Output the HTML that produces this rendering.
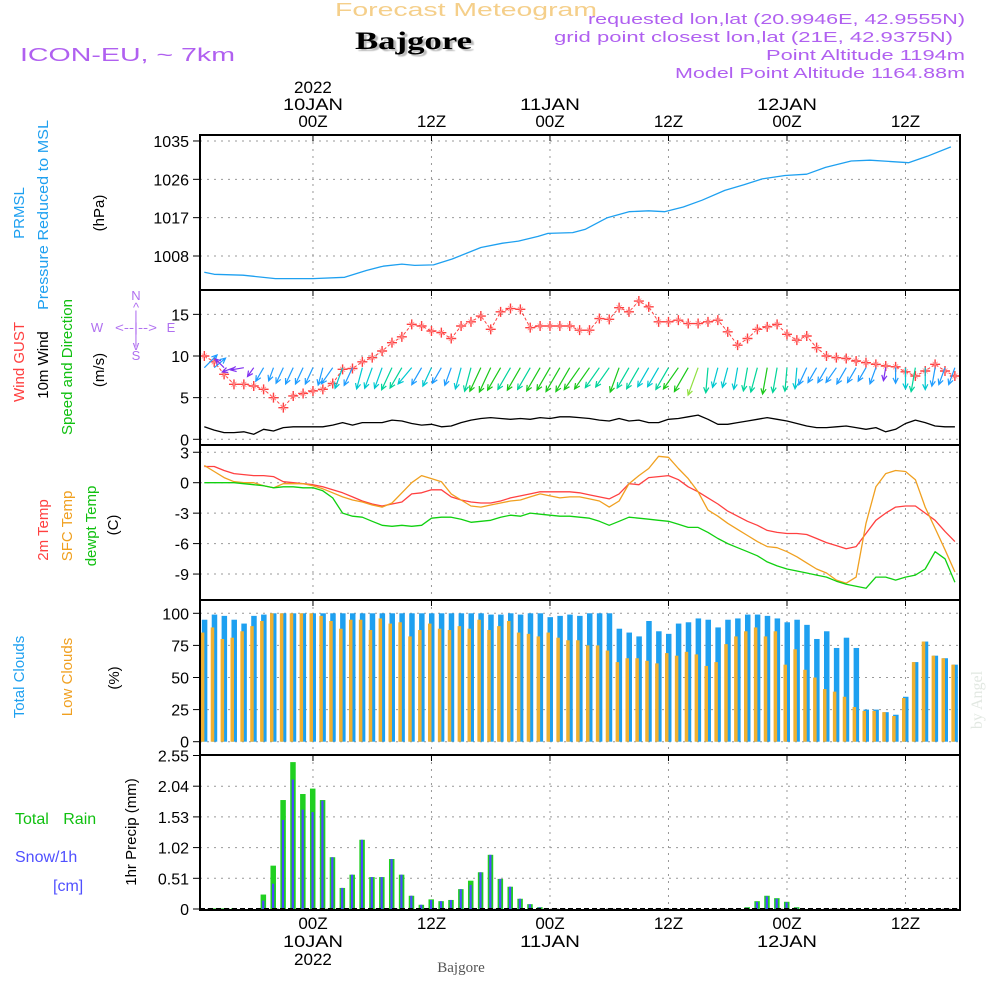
<!DOCTYPE html>
<html><head><meta charset="utf-8"><style>
html,body{margin:0;padding:0;background:#fff;}
svg{display:block;font-family:"Liberation Sans Narrow","Liberation Sans",sans-serif;}
</style></head><body>
<svg id="chart" width="1000" height="1000" viewBox="0 0 1000 1000" xmlns="http://www.w3.org/2000/svg">
<defs><clipPath id="plotclip"><rect x="200" y="135" width="760" height="775"/></clipPath></defs>
<rect x="0" y="0" width="1000" height="1000" fill="#fff"/>
<text x="335" y="16" textLength="262" lengthAdjust="spacingAndGlyphs" font-size="18" fill="#f5cf8a">Forecast Meteogram</text>
<text x="355" y="49" textLength="117" lengthAdjust="spacingAndGlyphs" font-size="25" font-weight="bold" font-family="Liberation Serif, serif" fill="#000" style="text-shadow:2px 2px 1px #bbb">Bajgore</text>
<text x="20" y="61" textLength="215" lengthAdjust="spacingAndGlyphs" font-size="18" fill="#b060f0">ICON-EU, ~ 7km</text>
<g font-size="15" fill="#b060f0">
<text x="588" y="24" textLength="377" lengthAdjust="spacingAndGlyphs">requested lon,lat (20.9946E, 42.9555N)</text>
<text x="554" y="42" textLength="399" lengthAdjust="spacingAndGlyphs">grid point closest lon,lat (21E, 42.9375N)</text>
<text x="766" y="60" textLength="199" lengthAdjust="spacingAndGlyphs">Point Altitude 1194m</text>
<text x="675" y="78" textLength="290" lengthAdjust="spacingAndGlyphs">Model Point Altitude 1164.88m</text>
</g>
<g id="grid"></g>
<g id="marks" clip-path="url(#plotclip)"></g>
<g id="axes"></g>
<g id="labels" font-size="16" fill="#000">
<g font-size="15">
<text transform="translate(24,213) rotate(-90)" text-anchor="middle" fill="#1ea0f0">PRMSL</text>
<text transform="translate(48,215) rotate(-90)" text-anchor="middle" fill="#1ea0f0" textLength="190" lengthAdjust="spacingAndGlyphs">Pressure Reduced to MSL</text>
<text transform="translate(104,213) rotate(-90)" text-anchor="middle">(hPa)</text>
<text transform="translate(24,362) rotate(-90)" text-anchor="middle" fill="#ff4040">Wind GUST</text>
<text transform="translate(48,365) rotate(-90)" text-anchor="middle">10m Wind</text>
<text transform="translate(72,367) rotate(-90)" text-anchor="middle" fill="#10c010">Speed and Direction</text>
<text transform="translate(104,370) rotate(-90)" text-anchor="middle">(m/s)</text>
<text transform="translate(48,530) rotate(-90)" text-anchor="middle" fill="#ff4040">2m Temp</text>
<text transform="translate(72,526) rotate(-90)" text-anchor="middle" fill="#f0a020">SFC Temp</text>
<text transform="translate(96,526) rotate(-90)" text-anchor="middle" fill="#10c010">dewpt Temp</text>
<text transform="translate(118,525) rotate(-90)" text-anchor="middle">(C)</text>
<text transform="translate(24,677) rotate(-90)" text-anchor="middle" fill="#1ea0f0">Total Clouds</text>
<text transform="translate(72,677) rotate(-90)" text-anchor="middle" fill="#f0a020">Low Clouds</text>
<text transform="translate(119,678) rotate(-90)" text-anchor="middle">(%)</text>
<text transform="translate(136,832) rotate(-90)" text-anchor="middle">1hr Precip (mm)</text>
</g>
<text x="15" y="824" font-size="16" fill="#10c010" word-spacing="10">Total Rain</text>
<text x="15" y="862" font-size="16" fill="#5050ff">Snow/1h</text>
<text x="53" y="891" font-size="16" fill="#5050ff">[cm]</text>
<g font-size="13" fill="#b070f0" text-anchor="middle">
<text x="136" y="300">N</text><text x="136" y="312">^</text><text x="136" y="320">|</text>
<text x="97" y="332">W</text><text x="136" y="332" textLength="42" lengthAdjust="spacingAndGlyphs">&lt;--|--&gt;</text><text x="171" y="332">E</text>
<text x="136" y="344">|</text><text x="136" y="350">v</text><text x="136" y="360">S</text>
</g>
<text x="461" y="972" text-anchor="middle" font-size="15" font-family="Liberation Serif, serif" fill="#555">Bajgore</text>
<text transform="translate(982,700) rotate(-90)" text-anchor="middle" font-size="16" font-family="Liberation Serif, serif" fill="#e2e8e2">by Angel</text>
</g>
</svg>
<script>
// ---- data ----
const tickHours = [0, 12, 24, 36, 48, 60];
const tickLabels = ["00Z", "12Z", "00Z", "12Z", "00Z", "12Z"];
const dayLabels = ["10JAN", "", "11JAN", "", "12JAN", ""];
const hours = [-11,-10,-9,-8,-7,-6,-5,-4,-3,-2,-1,0,1,2,3,4,5,6,7,8,9,10,11,12,13,14,15,16,17,18,19,20,21,22,23,24,25,26,27,28,29,30,31,32,33,34,35,36,37,38,39,40,41,42,43,44,45,46,47,48,49,50,51,52,53,54,55,56,57,58,59,60,61,62,63,64,65];
const pressureHours = [-11,-10,-7.1,-3.8,0,3.2,5.4,7.1,9,10.3,12.2,14.1,17,19.2,20.8,22.8,23.8,26.3,27.6,29.8,32,34,35.6,37.5,39.4,41.7,43.6,45.5,47.8,50,51.9,54.5,56.4,58.3,60.3,62.2,64.6];
const pressureValues = [1004.2,1003.7,1003.5,1002.7,1002.7,1003.0,1004.6,1005.6,1006.1,1005.8,1005.9,1007.3,1010.0,1011.0,1011.5,1012.6,1013.3,1013.5,1014.3,1017.0,1018.4,1018.6,1018.4,1019.5,1021.1,1023.4,1024.7,1026.1,1026.9,1027.2,1028.8,1030.3,1030.5,1030.2,1029.9,1031.4,1033.6];
const pressureTicks = [1008, 1017, 1026, 1035];
const gustValues = [10.0,9.3,7.8,6.6,6.6,6.4,6.0,5.0,3.8,5.2,5.5,5.8,6.0,6.7,8.4,8.5,9.3,9.8,10.6,11.6,12.3,13.8,13.6,13.0,12.8,12.1,13.6,14.1,14.8,13.2,15.3,15.7,15.6,13.4,13.6,13.6,13.6,13.6,13.1,13.1,14.5,14.4,15.8,15.3,16.6,15.9,14.1,14.1,14.3,13.9,13.9,14.1,14.3,12.9,11.3,12.1,13.2,13.5,13.8,12.6,11.9,12.4,11.0,10.0,9.8,9.7,9.4,9.2,9.0,8.8,8.7,8.1,7.6,8.2,9.0,8.2,7.6];
const windSpeed = [1.5,1.1,0.8,0.8,0.9,0.6,1.2,1.0,1.4,1.5,1.5,1.5,1.5,1.7,2.0,1.7,2.0,2.0,2.0,2.3,2.2,1.9,1.7,1.8,1.5,1.6,2.0,2.3,2.5,2.6,2.5,2.4,2.5,2.4,2.6,2.5,2.7,2.7,2.6,2.5,2.3,2.2,2.5,2.2,2.3,2.0,2.0,2.4,2.5,2.7,2.9,2.4,1.8,1.8,2.0,2.2,2.4,2.6,2.4,2.2,1.9,1.6,1.4,1.4,1.5,1.6,1.4,1.2,1.4,0.9,1.2,1.9,2.3,2.0,1.6,1.5,1.5];
const windDir = [225,230,135,70,80,35,30,20,25,25,25,25,15,35,20,25,15,20,20,25,30,40,30,25,30,20,15,15,25,25,30,30,30,30,30,30,30,30,35,35,35,35,20,30,30,30,30,30,35,30,20,5,15,15,10,10,15,10,10,5,5,25,30,30,35,30,30,30,20,10,0,0,10,0,10,20,20];
const windTicks = [0, 5, 10, 15];
const temp2m = [1.6,1.6,1.2,0.9,0.8,0.7,0.7,0.6,0.1,0.0,-0.1,-0.2,-0.4,-0.7,-1.0,-1.4,-1.8,-2.1,-2.3,-2.1,-1.9,-1.1,-1.0,-0.7,-0.7,-1.4,-1.7,-1.9,-2.0,-2.0,-1.8,-1.5,-1.3,-1.1,-0.9,-0.9,-0.9,-0.9,-1.0,-1.2,-1.4,-1.6,-1.1,-0.1,-0.2,0.5,0.6,0.7,0.3,-0.4,-0.9,-1.5,-2.1,-2.8,-3.3,-3.8,-4.2,-4.7,-4.9,-5.0,-5.0,-5.1,-5.5,-5.9,-6.2,-6.5,-6.3,-5.0,-3.7,-3.0,-2.4,-2.3,-2.3,-3.0,-3.7,-4.8,-5.8];
const tempSfc = [1.7,1.1,0.5,0.1,0.0,0.0,-0.3,-0.5,-0.1,-0.1,-0.1,-0.3,-0.6,-1.0,-1.4,-1.7,-1.9,-2.2,-2.4,-2.0,-1.0,0.0,0.7,0.4,0.1,-1.1,-1.7,-2.3,-2.4,-2.2,-2.0,-1.8,-1.7,-1.4,-1.1,-1.3,-1.5,-1.4,-1.4,-1.6,-1.8,-2.4,-1.8,-0.1,0.7,1.4,2.6,2.5,1.4,0.4,-0.9,-2.7,-3.3,-4.0,-4.6,-5.2,-5.8,-6.3,-6.4,-6.8,-7.3,-7.9,-8.5,-8.9,-9.6,-9.9,-9.3,-4.0,-0.4,0.9,1.2,1.1,0.3,-2.4,-4.5,-6.6,-8.8];
const dewpoint = [0.0,0.0,0.0,0.0,-0.1,-0.2,-0.3,-0.5,-0.4,-0.4,-0.5,-0.5,-0.8,-1.5,-3.0,-3.3,-3.4,-3.8,-4.2,-4.3,-4.2,-4.3,-4.2,-3.5,-3.4,-3.4,-3.6,-3.9,-3.8,-3.7,-3.4,-3.2,-3.3,-3.0,-3.1,-3.2,-3.3,-3.3,-3.4,-3.5,-3.8,-4.2,-3.8,-3.4,-3.5,-3.6,-3.7,-3.8,-4.1,-4.4,-4.4,-4.9,-5.5,-6.0,-6.4,-6.8,-7.2,-7.8,-8.2,-8.5,-8.7,-8.9,-9.1,-9.3,-9.7,-10.0,-10.2,-10.4,-9.3,-9.3,-9.6,-9.3,-9.1,-8.5,-6.8,-7.5,-9.8];
const tempTicks = [-9, -6, -3, 0, 3];
const totalClouds = [95,99,98,95,92,98,99,100,100,100,100,100,100,100,100,100,100,100,100,100,100,100,100,100,100,100,100,100,100,99,99,100,99,100,100,97,98,99,98,100,100,100,88,85,82,94,86,84,92,93,96,95,89,95,96,99,99,98,96,93,95,91,80,86,73,81,73,25,25,23,21,35,62,78,67,65,60];
const lowClouds = [85,89,80,81,86,90,94,100,100,100,100,100,98,94,88,95,95,87,96,92,93,82,87,92,88,87,90,88,95,87,90,94,85,84,82,85,81,79,79,75,75,71,62,65,65,63,61,69,67,70,68,59,62,76,82,86,89,82,86,60,72,56,50,41,39,35,27,24,24,23,20,34,62,78,67,65,60];
const cloudTicks = [0, 25, 50, 75, 100];
const rainTotal = [0,0.01,0.01,0.01,0,0,0.24,0.72,1.81,2.44,1.91,2.0,1.81,0.86,0.35,0.57,1.15,0.53,0.53,0.83,0.57,0.22,0.07,0.16,0.13,0.15,0.33,0.47,0.61,0.90,0.50,0.37,0.17,0.08,0.03,0,0,0,0,0,0,0,0,0,0,0,0,0,0,0,0,0,0,0,0,0.03,0.13,0.22,0.18,0.12,0.03,0,0,0,0,0,0,0,0,0,0,0,0,0,0,0,0];
const snowTotal = [0,0,0,0,0,0,0.14,0.42,1.48,2.15,1.65,1.61,1.80,0.86,0.35,0.57,1.15,0.53,0.53,0.83,0.57,0.22,0.07,0.15,0.13,0.15,0.33,0.40,0.61,0.90,0.50,0.37,0.17,0.08,0.03,0,0,0,0,0,0,0,0,0,0,0,0,0,0,0,0,0,0,0,0,0.02,0.12,0.21,0.17,0.11,0.02,0,0,0,0,0,0,0,0,0,0,0,0,0,0,0,0];
const precipTicks = [0, 0.51, 1.02, 1.53, 2.04, 2.55];

// ---- axes functions ----
const X0 = 200, X1 = 960, H0 = -11.44, H1 = 65.52;
function xs(h){ return X0 + (h - H0) * (X1 - X0) / (H1 - H0); }
function yp(v){ return 256 - (v - 1008) * 4.26; }
function yw(v){ return 439.3 - v * 8.33; }
function yt(v){ return 482.7 - v * 10.15; }
function yc(v){ return 741.7 - v * 1.284; }
function yr(v){ return 909 - v * 60.2; }

const NS = "http://www.w3.org/2000/svg";
function mk(tag, attrs, parent){
  const e = document.createElementNS(NS, tag);
  for (const k in attrs) e.setAttribute(k, attrs[k]);
  parent.appendChild(e);
  return e;
}
const grid = document.getElementById("grid");
const marks = document.getElementById("marks");
const axes = document.getElementById("axes");

const panels = [
  {top:135, bot:290, ticks:pressureTicks, f:yp, fmt:v=>String(v)},
  {top:290, bot:445, ticks:windTicks, f:yw, fmt:v=>String(v)},
  {top:445, bot:600, ticks:tempTicks, f:yt, fmt:v=>String(v)},
  {top:600, bot:755, ticks:cloudTicks, f:yc, fmt:v=>String(v)},
  {top:755, bot:910, ticks:precipTicks, f:yr, fmt:v=>v===0?"0":v.toFixed(2)}
];
panels.forEach((p, pi) => {
  tickHours.forEach(h => {
    const gl = mk("line", {x1:xs(h), x2:xs(h), y1:p.top, y2:p.bot, stroke:"#999", "stroke-width":1, "stroke-dasharray":"2,5"}, grid);
    
    
    const tk = mk("line", {x1:xs(h), x2:xs(h), y1:p.top, y2:p.top+6, stroke:"#000", "stroke-width":1}, axes);
    
    
  });
  p.ticks.forEach(v => {
    const y = p.f(v);
    const gl = mk("line", {x1:X0, x2:X1, y1:y, y2:y, stroke:"#999", "stroke-width":1, "stroke-dasharray":"2,5"}, grid);
    
    
    const tk = mk("line", {x1:193, x2:X0, y1:y, y2:y, stroke:"#000", "stroke-width":1}, axes);
    
    
    const tl = mk("text", {x:189, y:y+6, "text-anchor":"end", "font-size":16, fill:"#000"}, axes);
    
    
    tl.textContent = p.fmt(v);
  });
  const fr = mk("rect", {x:X0, y:p.top, width:X1-X0, height:p.bot-p.top, fill:"none", stroke:"#000", "stroke-width":2}, axes);
  
  
});
// top & bottom time labels
tickHours.forEach((h, i) => {
  const t = mk("text", {x:xs(h), y:127, "text-anchor":"middle", "font-size":17}, axes);
  
  
  t.textContent = tickLabels[i];
  const b = mk("text", {x:xs(h), y:929, "text-anchor":"middle", "font-size":17}, axes);
  
  
  b.textContent = tickLabels[i];
  if (dayLabels[i]) {
    const d = mk("text", {x:xs(h), y:110, "text-anchor":"middle", "font-size":17, textLength:60, lengthAdjust:"spacingAndGlyphs"}, axes);
    
    
    d.textContent = dayLabels[i];
    const d2 = mk("text", {x:xs(h), y:947, "text-anchor":"middle", "font-size":17, textLength:60, lengthAdjust:"spacingAndGlyphs"}, axes);
    
    
    d2.textContent = dayLabels[i];
  }
});
const y1 = mk("text", {x:xs(0), y:93, "text-anchor":"middle", "font-size":17}, axes);


y1.textContent = "2022";
const y2 = mk("text", {x:xs(0), y:965, "text-anchor":"middle", "font-size":17}, axes);


y2.textContent = "2022";

function line(hs, vs, f, color, w, name, dash){
  const d = hs.map((h, i) => (i ? "L" : "M") + xs(h).toFixed(1) + "," + f(vs[i]).toFixed(1)).join(" ");
  const p = mk("path", {d:d, fill:"none", stroke:color, "stroke-width":w, "stroke-linejoin":"round"}, marks);
  if (dash) p.setAttribute("stroke-dasharray", dash);
  
  
}
// pressure
line(pressureHours, pressureValues, yp, "#1ea0f0", 1.3, "pressure-line");
// clouds
hours.forEach((h, i) => {
  const x = xs(h);
  const b = mk("rect", {x:x-2.5, y:yc(totalClouds[i]), width:5.5, height:yc(0)-yc(totalClouds[i]), fill:"#1ea0f0"}, marks);
  
  
  const o = mk("rect", {x:x-3.5, y:yc(lowClouds[i]), width:3.5, height:yc(0)-yc(lowClouds[i]), fill:"#f0b030"}, marks);
  
  
});
// precip
hours.forEach((h, i) => {
  const x = xs(h);
  if (rainTotal[i] > 0) {
    const g = mk("rect", {x:x-3, y:yr(rainTotal[i]), width:5.5, height:yr(0)-yr(rainTotal[i]), fill:"#20d020"}, marks);
    
    
  }
  if (snowTotal[i] > 0) {
    const s = mk("rect", {x:x-1.5, y:yr(snowTotal[i]), width:2.2, height:yr(0)-yr(snowTotal[i]), fill:"#4a4aff"}, marks);
    
    
  }
});
const zl = mk("line", {x1:X0, x2:X1, y1:yr(0), y2:yr(0), stroke:"#000", "stroke-width":2, "stroke-dasharray":"5,3"}, marks);


// temps
line(hours, temp2m, yt, "#ff4040", 1.3, "temp-2m-line");
line(hours, tempSfc, yt, "#f0a020", 1.3, "temp-sfc-line");
line(hours, dewpoint, yt, "#10d010", 1.3, "dewpoint-line");
// wind speed
line(hours, windSpeed, yw, "#000", 1.3, "wind-speed-line");
// gust
line(hours, gustValues, yw, "#ff4040", 1, "gust-line", "3,2");
hours.forEach((h, i) => {
  const x = xs(h), y = yw(gustValues[i]);
  const g = mk("path", {d:`M${x-5},${y}L${x+5},${y}M${x},${y-5}L${x},${y+5}`, stroke:"#ff4040", "stroke-width":1.4}, marks);
  
  
  const g2 = mk("path", {d:`M${x-2.5},${y-2.5}L${x+2.5},${y+2.5}M${x-2.5},${y+2.5}L${x+2.5},${y-2.5}`, stroke:"#ff9090", "stroke-width":0.8}, marks);
  
  
});
// wind arrows
function windColor(s){
  if (s < 0.95) return "#8030f0";
  if (s < 1.75) return "#1e9cff";
  if (s < 2.15) return "#00c8d0";
  if (s < 2.45) return "#00d49a";
  if (s < 2.85) return "#18c818";
  return "#90e040";
}
hours.forEach((h, i) => {
  const s = windSpeed[i], d = windDir[i] * Math.PI / 180;
  const L = 6 + s * 8;
  const dx = -Math.sin(d), dy = Math.cos(d);
  const x0 = xs(h), y0 = yw(8.6);
  const x1 = x0 + dx * L, yy1 = y0 + dy * L;
  const ang = Math.atan2(dy, dx), hl = 6;
  const a1x = x1 - hl * Math.cos(ang - 0.45), a1y = yy1 - hl * Math.sin(ang - 0.45);
  const a2x = x1 - hl * Math.cos(ang + 0.45), a2y = yy1 - hl * Math.sin(ang + 0.45);
  const a = mk("path", {d:`M${x0},${y0}L${x1},${yy1}M${a1x},${a1y}L${x1},${yy1}L${a2x},${a2y}`, stroke:windColor(s), "stroke-width":1.2, fill:"none"}, marks);
  
  
});
</script>
</body></html>
